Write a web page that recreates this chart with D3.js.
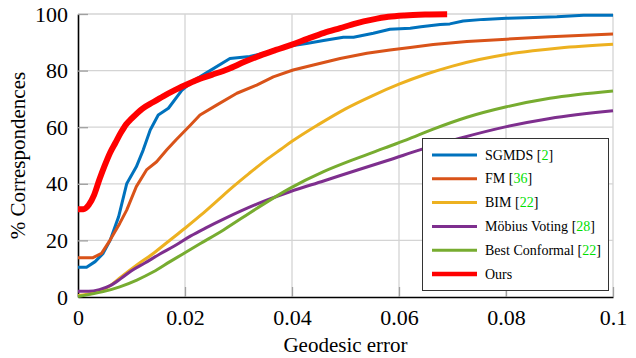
<html><div id="chartContainer">
<script src="https://d3js.org/d3.v7.min.js"></script>
<script type="text/javascript">

// curves: [geodesic error, % correspondences]
var sgmds = [[0,10.5],[0.0016,10.5],[0.0032,12.5],[0.0047,15.4],[0.006,20],[0.0076,28.4],[0.0091,40],
  [0.0109,46],[0.0122,52],[0.0135,59],[0.015,64.3],[0.0169,66.7],[0.0194,73],[0.0215,76.3],[0.024,79.2],
  [0.0284,84.3],[0.0321,85],[0.0359,86.7],[0.0396,88.7],[0.0427,89.6],[0.0459,90.6],[0.0496,91.8],
  [0.0515,91.8],[0.0552,93.2],[0.0583,94.6],[0.0621,95],[0.0641,95.5],[0.0677,96.3],[0.0695,96.5],
  [0.072,97.5],[0.0758,98.1],[0.0801,98.5],[0.0851,98.8],[0.0895,99],[0.0945,99.6],[0.1,99.6]];
var fm = [[0,13.9],[0.0028,13.9],[0.0044,15.4],[0.006,20.1],[0.0078,26],[0.0091,30.7],[0.0109,39],
  [0.0128,44.9],[0.0147,47.8],[0.0166,52],[0.0183,55.5],[0.0209,60.5],[0.0228,64.3],[0.0259,67.8],
  [0.0297,72],[0.0334,74.9],[0.0365,77.8],[0.0402,80.2],[0.044,82],[0.049,84.3],[0.054,86.1],
  [0.0583,87.3],[0.0621,88.2],[0.0664,89.2],[0.0727,90.3],[0.0801,91.1],[0.0882,92],[0.1,92.9]];
var bim = [[0,0.5],[0.003,1.5],[0.006,4],[0.008,7],[0.011,11.3],[0.014,15.3],[0.017,19.8],[0.02,24.3],
  [0.023,29],[0.026,34],[0.029,39],[0.032,43.7],[0.035,48.2],[0.038,52.3],[0.04,55],[0.045,61],
  [0.05,66.5],[0.055,71.1],[0.06,75.2],[0.065,78.7],[0.07,81.6],[0.075,83.9],[0.08,85.7],[0.085,87],
  [0.09,88],[0.1,89.3]];
var mobius = [[0,2],[0.002,2],[0.004,2.6],[0.006,4],[0.008,6.5],[0.01,9.3],[0.0125,12],[0.0153,15.2],
  [0.018,18],[0.021,21.5],[0.024,24.5],[0.0272,27.5],[0.0334,32.8],[0.0396,37.2],[0.0459,41],
  [0.0521,44.8],[0.0583,48.5],[0.0639,52],[0.0714,56.1],[0.0801,60.2],[0.0882,63.1],[0.1,65.8]];
var conformal = [[0,0.2],[0.0047,1.9],[0.0078,3.6],[0.011,6],[0.0141,8.9],[0.0172,12.5],[0.0203,16],
  [0.0228,18.8],[0.0272,23.7],[0.0334,31.3],[0.0396,38.4],[0.0459,44.3],[0.0521,49],[0.0571,52.5],
  [0.0614,55.5],[0.0664,59.3],[0.0727,63.5],[0.0801,67.2],[0.0882,70.2],[0.1,72.8]];
var ours = [[0,31],[0.001,31],[0.002,32.5],[0.003,36],[0.004,41.5],[0.005,46.5],[0.006,51],[0.007,54.5],
  [0.008,58],[0.009,61],[0.01,63],[0.012,66.5],[0.014,68.8],[0.016,71],[0.018,73],[0.02,74.8],
  [0.022,76.5],[0.025,78.5],[0.028,80.5],[0.031,83],[0.034,85.3],[0.037,87.3],[0.04,89.2],[0.043,91.3],
  [0.046,93.3],[0.049,95],[0.052,96.7],[0.055,98],[0.058,99],[0.061,99.5],[0.065,99.8],[0.069,99.9]];

var xTicks = [0, 0.02, 0.04, 0.06, 0.08, 0.1];
var xTickLabels = ["0", "0.02", "0.04", "0.06", "0.08", "0.1"];
var yTicks = [0, 20, 40, 60, 80, 100];

var seriesNames = ["SGMDS", "FM", "BIM", "Möbius Voting", "Best Conformal", "Ours"];
var seriesRefs = ["2", "36", "22", "28", "22", null];
var seriesData = [sgmds, fm, bim, mobius, conformal, ours];
var seriesColors = ["#0072bd", "#d95319", "#edb120", "#7e2f8e", "#77ac30", "#ff0000"];

var width = 636, height = 358;
var plotLeft = 78, plotRight = 613, plotTop = 14, plotBottom = 297;
var font = "'Liberation Serif', 'DejaVu Serif', serif";

var svg = d3.select("#chartContainer").append("svg")
  .attr("width", width).attr("height", height)
  .style("position", "absolute").style("left", 0).style("top", 0);
d3.select("body").style("margin", 0);

var x = d3.scaleLinear().domain([0, 0.1]).range([plotLeft, plotRight]);
var y = d3.scaleLinear().domain([0, 100]).range([plotBottom, plotTop]);

// grid
svg.append("g").selectAll("line").data(xTicks.slice(1)).join("line")
  .attr("x1", d => x(d)).attr("x2", d => x(d)).attr("y1", plotTop).attr("y2", plotBottom)
  .attr("stroke", "#d4d4d4").attr("stroke-width", 1.3);
svg.append("g").selectAll("line").data(yTicks.slice(1)).join("line")
  .attr("x1", plotLeft).attr("x2", plotRight).attr("y1", d => y(d)).attr("y2", d => y(d))
  .attr("stroke", "#d4d4d4").attr("stroke-width", 1.3);

// axes (d3 axis, inner gray ticks, black domain on left/bottom)
var xAxis = svg.append("g").attr("transform", "translate(0," + plotBottom + ")")
  .call(d3.axisBottom(x).tickValues(xTicks).tickFormat((d, i) => xTickLabels[i]).tickSizeInner(-10).tickSizeOuter(0).tickPadding(12));
var yAxis = svg.append("g").attr("transform", "translate(" + plotLeft + ",0)")
  .call(d3.axisLeft(y).tickValues(yTicks).tickSizeInner(-10).tickSizeOuter(0).tickPadding(10));
[xAxis, yAxis].forEach(function (a) {
  a.select(".domain").attr("stroke", "#000").attr("stroke-width", 1.6);
  a.selectAll(".tick line").attr("stroke", "#a0a0a0").attr("stroke-width", 1.3);
  a.selectAll(".tick text").attr("fill", "#000").style("font-family", font).style("font-size", "22px");
});
xAxis.select(".tick line").remove();
yAxis.select(".tick line").remove();

// curves
var smooth = [false, false, true, true, true, true];
seriesData.forEach(function (data, i) {
  var line = d3.line().x(d => x(d[0])).y(d => y(d[1]))
    .curve(smooth[i] ? d3.curveMonotoneX : d3.curveLinear);
  svg.append("path").datum(data).attr("d", line)
    .attr("fill", "none").attr("stroke", seriesColors[i])
    .attr("stroke-width", i == 5 ? 6 : 3).attr("stroke-linejoin", "round");
});

// axis titles
svg.append("text").attr("x", (plotLeft + plotRight) / 2).attr("y", 352)
  .style("text-anchor", "middle").style("font-family", font).style("font-size", "21px")
  .text("Geodesic error");
svg.append("text").attr("transform", "translate(25," + (plotTop + plotBottom) / 2 + ") rotate(-90)")
  .style("text-anchor", "middle").style("font-family", font).style("font-size", "21px")
  .text("% Correspondences");

// legend
var legend = svg.append("g");
legend.append("rect").attr("x", 422.5).attr("y", 138.5).attr("width", 186).attr("height", 152)
  .attr("fill", "#fff").attr("stroke", "#333").attr("stroke-width", 1);
seriesNames.forEach(function (name, i) {
  var ly = 155 + i * 23.8;
  legend.append("line").attr("x1", 432).attr("x2", 477).attr("y1", ly).attr("y2", ly)
    .attr("stroke", seriesColors[i]).attr("stroke-width", i == 5 ? 4.5 : 3);
  var t = legend.append("text").attr("x", 485).attr("y", ly + 4.5)
    .style("font-family", font).style("font-size", "14px").text(name);
  if (seriesRefs[i]) {
    t.append("tspan").text(" [");
    t.append("tspan").attr("fill", "#00e000").text(seriesRefs[i]);
    t.append("tspan").text("]");
  }
});

</script>
</div></html>
